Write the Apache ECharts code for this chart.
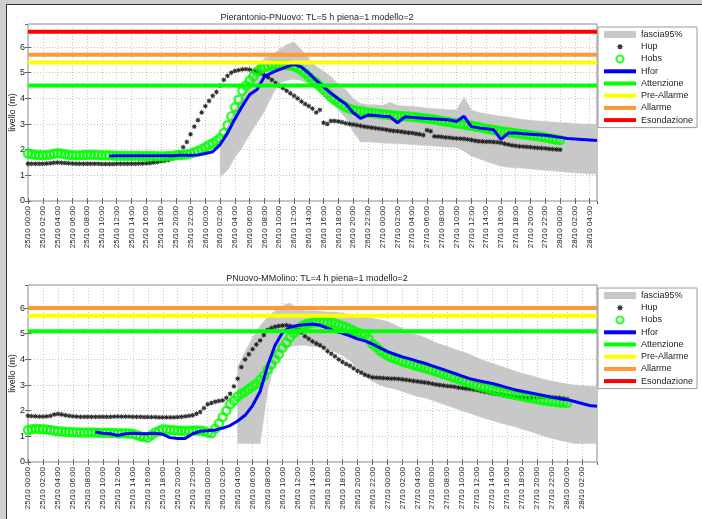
<!DOCTYPE html>
<html><head><meta charset="utf-8">
<script src="https://cdn.jsdelivr.net/npm/echarts@6/dist/echarts.min.js"></script>
<style>
html,body{margin:0;padding:0;background:#cfcfcf;}
#frame{position:absolute;left:6px;top:4px;width:700px;height:520px;background:#fff;border-left:1.5px solid #333;border-top:1.5px solid #333;}
#c{position:absolute;left:0;top:0;width:702px;height:519px;}
</style>
</head><body><div id="frame"></div><div id="c"></div>
<script>
// ---------- DATA (hours from 25/10 00:00) ----------
const startDay = 25;
const titles = ['Pierantonio-PNuovo: TL=5 h piena=1 modello=2', 'PNuovo-MMolino: TL=4 h piena=1 modello=2'];
const xMax = [77, 76];
const yMax = [6.9, 6.9];
const thresholdNames = ['Attenzione', 'Pre-Allarme', 'Allarme', 'Esondazione'];
const thresholdsTop = [4.5, 5.4, 5.7, 6.6];
const thresholdsBot = [5.1, 5.7, 6.0, 7.5];
const obsStep = 0.5;   // observed series: every 30 minutes from 25/10 00:00

// ---- top panel ----
const topHup = [
  1.45,1.45,1.45,1.45,1.45,1.46,1.47,1.49,1.5,1.49,1.48,1.47,1.46,1.45,1.45,1.45,1.45,1.45,1.45,1.45,
  1.44,1.44,1.44,1.44,1.45,1.45,1.45,1.45,1.45,1.45,1.46,1.46,1.47,1.48,1.5,1.52,1.55,1.57,1.6,1.65,
  1.75,1.88,2.1,2.3,2.6,2.9,3.15,3.45,3.7,3.9,4.1,4.25,4.5,4.72,4.88,5.0,5.07,5.1,5.13,5.14,
  5.12,5.08,5.05,4.98,4.9,4.82,4.72,4.6,4.5,4.4,4.3,4.2,4.1,4.0,3.88,3.78,3.7,3.6,3.45,3.55,
  3.05,3.0,3.12,3.12,3.1,3.07,3.03,3.0,2.98,2.96,2.93,2.9,2.88,2.86,2.84,2.82,2.8,2.78,2.75,2.73,
  2.72,2.7,2.68,2.66,2.65,2.62,2.6,2.57,2.76,2.72,2.52,2.51,2.5,2.48,2.47,2.45,2.44,2.43,2.42,2.4,
  2.38,2.35,2.33,2.32,2.31,2.31,2.3,2.29,2.27,2.23,2.2,2.17,2.15,2.13,2.12,2.11,2.1,2.08,2.07,2.06,
  2.05,2.03,2.02,2.01,2.0];
const topHobs = [
  1.85,1.82,1.8,1.79,1.78,1.79,1.8,1.84,1.86,1.85,1.82,1.8,1.78,1.78,1.78,1.79,1.8,1.8,1.8,1.79,
  1.78,1.78,1.78,1.77,1.76,1.76,1.76,1.76,1.76,1.76,1.76,1.75,1.75,1.75,1.75,1.74,1.74,1.74,1.75,1.76,
  1.78,1.79,1.8,1.82,1.85,1.9,1.95,2.02,2.1,2.18,2.25,2.35,2.45,2.65,2.95,3.3,3.65,3.95,4.3,4.5,
  4.7,4.85,5.05,5.15,5.22,5.25,5.28,5.3,5.3,5.3,5.3,5.28,5.25,5.18,5.1,4.98,4.85,4.72,4.62,4.48,
  4.35,4.2,4.05,3.95,3.85,3.75,3.65,3.6,3.55,3.52,3.5,3.48,3.45,3.44,3.42,3.4,3.38,3.37,3.35,3.33,
  3.32,3.31,3.3,3.29,3.28,3.26,3.25,3.23,3.22,3.2,3.18,3.15,3.12,3.1,3.08,3.05,3.03,3.0,2.98,2.95,
  2.93,2.9,2.88,2.85,2.82,2.8,2.77,2.75,2.72,2.7,2.68,2.66,2.64,2.62,2.6,2.58,2.56,2.54,2.52,2.5,
  2.48,2.45,2.43,2.4,2.38];
const topHforStart = 11;   // hourly
const topHfor = [1.75,1.76,1.76,1.76,1.76,1.76,1.76,1.76,1.76,1.77,1.78,1.78,1.79,1.85,1.92,2.2,2.65,3.2,3.7,4.15,
  4.35,4.85,5.0,5.12,5.23,5.33,5.22,4.98,4.7,4.45,4.2,3.98,3.78,3.45,3.22,3.35,3.33,3.3,3.28,3.05,
  3.28,3.26,3.24,3.22,3.2,3.18,3.16,3.1,3.3,2.9,2.85,2.82,2.78,2.4,2.65,2.65,2.62,2.6,2.58,2.56,
  2.52,2.48,2.44,2.42,2.4,2.38,2.36];
const topBandStart = 26;   // hourly
const topBandLow = [0.95,1.2,1.7,2.1,2.6,3.05,3.5,4.1,4.6,4.7,4.75,4.7,4.55,4.35,4.1,3.85,3.55,3.25,2.7,2.3,
  2.3,2.28,2.26,2.25,2.24,2.22,2.2,2.18,2.16,2.14,2.12,2.1,2.1,1.95,1.75,1.65,1.55,1.45,1.35,1.32,
  1.3,1.28,1.25,1.22,1.2,1.18,1.15,1.12,1.1,1.08,1.06,1.05];
const topBandHigh = [2.3,2.9,3.6,4.1,4.7,5.3,5.55,5.7,5.9,6.1,6.2,5.9,5.55,5.25,5.05,4.85,4.55,4.35,4.0,3.8,
  3.75,3.75,3.72,3.85,3.72,3.7,3.68,3.66,3.62,3.6,3.58,3.56,3.55,4.05,3.55,3.45,3.4,3.35,3.3,3.27,
  3.22,3.18,3.15,3.12,3.1,3.08,3.06,3.04,3.02,3.0,3.0,2.98];

// ---- bottom panel ----
const botHup = [
  1.8,1.79,1.78,1.77,1.77,1.78,1.8,1.85,1.87,1.85,1.82,1.8,1.78,1.77,1.76,1.76,1.76,1.76,1.76,1.76,
  1.76,1.76,1.76,1.77,1.77,1.77,1.77,1.77,1.76,1.76,1.76,1.75,1.75,1.75,1.75,1.74,1.74,1.74,1.74,1.74,
  1.75,1.76,1.78,1.8,1.82,1.88,1.95,2.1,2.25,2.3,2.35,2.38,2.4,2.5,2.66,2.95,3.25,3.7,4.0,4.2,
  4.4,4.58,4.74,4.95,5.15,5.22,5.27,5.3,5.32,5.33,5.3,5.25,5.2,5.05,4.9,4.8,4.7,4.62,4.55,4.45,
  4.32,4.22,4.12,4.0,3.9,3.82,3.75,3.65,3.55,3.48,3.4,3.35,3.3,3.29,3.28,3.27,3.26,3.25,3.25,3.24,
  3.22,3.2,3.18,3.16,3.14,3.12,3.1,3.08,3.05,3.02,3.0,2.98,2.96,2.95,2.93,2.9,2.88,2.86,2.85,2.82,
  2.8,2.77,2.74,2.71,2.68,2.66,2.64,2.61,2.58,2.56,2.54,2.52,2.5,2.5,2.5,2.51,2.52,2.53,2.53,2.53,
  2.52,2.51,2.5,2.48,2.45];
const botHobs = [
  1.25,1.28,1.3,1.29,1.28,1.27,1.25,1.22,1.2,1.19,1.18,1.17,1.16,1.15,1.15,1.15,1.15,1.15,1.15,1.14,
  1.14,1.14,1.14,1.13,1.12,1.12,1.12,1.11,1.1,1.05,1.0,0.97,0.95,1.05,1.15,1.22,1.28,1.27,1.25,1.24,
  1.23,1.22,1.22,1.22,1.23,1.23,1.23,1.2,1.15,1.12,1.3,1.5,1.75,2.0,2.25,2.4,2.55,2.66,2.75,2.85,
  2.95,3.05,3.2,3.35,3.6,3.8,4.0,4.2,4.45,4.65,4.87,5.02,5.15,5.28,5.35,5.4,5.43,5.45,5.45,5.45,
  5.43,5.42,5.4,5.35,5.3,5.25,5.18,5.12,5.05,5.0,4.95,4.8,4.6,4.48,4.35,4.25,4.15,4.08,4.02,3.97,
  3.92,3.87,3.83,3.78,3.74,3.7,3.66,3.62,3.58,3.53,3.48,3.43,3.38,3.33,3.28,3.23,3.18,3.13,3.08,3.03,
  2.98,2.94,2.9,2.86,2.82,2.78,2.75,2.72,2.68,2.65,2.62,2.59,2.56,2.53,2.5,2.48,2.45,2.42,2.4,2.38,
  2.36,2.34,2.32,2.31,2.3];
const botHforStart = 9;   // hourly
const botHfor = [1.17,1.12,1.1,1.03,1.1,1.12,1.1,1.1,1.12,1.08,0.95,0.92,0.92,1.1,1.2,1.22,1.25,1.32,1.42,1.6,
  1.82,2.2,2.75,3.75,4.55,5.05,5.25,5.32,5.35,5.38,5.33,5.22,5.1,5.02,4.92,4.8,4.72,4.6,4.45,4.3,
  4.2,4.1,4.02,3.93,3.85,3.75,3.65,3.55,3.45,3.35,3.25,3.18,3.12,3.06,2.98,2.9,2.82,2.76,2.7,2.64,
  2.58,2.52,2.47,2.43,2.36,2.28,2.2,2.17];
const botBandStart = 28;   // hourly
const botBandLow = [0.72,0.72,0.72,0.72,2.8,3.85,4.3,4.5,4.55,4.55,4.5,4.48,4.4,4.3,4.15,3.95,3.65,3.35,3.15,3.0,
  2.9,2.85,2.75,2.65,2.55,2.5,2.4,2.3,2.2,2.1,2.0,1.9,1.8,1.7,1.62,1.52,1.45,1.38,1.28,1.2,
  1.1,1.0,0.92,0.85,0.78,0.72,0.72,0.72,0.72];
const botBandHigh = [3.7,4.3,4.85,5.3,5.65,5.9,6.1,6.2,5.95,5.9,5.9,5.88,5.85,5.85,5.8,5.75,5.7,5.65,5.6,5.55,
  5.48,5.35,5.2,5.05,4.95,4.85,4.72,4.6,4.5,4.4,4.3,4.2,4.05,3.95,3.85,3.75,3.65,3.55,3.45,3.38,
  3.3,3.22,3.15,3.1,3.05,3.0,2.97,2.95,2.93];

// ---------- CHART ----------
const FONT = 'Liberation Sans, Arial, sans-serif';
const TXT = '#222';
const thresholdColors = ['#00ff00', '#ffff00', '#ff9933', '#ff0000'];
const starPath = 'path://M10,5L7.4,6L8.54,8.54L6,7.4L5,10L4,7.4L1.46,8.54L2.6,6L0,5L2.6,4L1.46,1.46L4,2.6L5,0L6,2.6L8.54,1.46L7.4,4Z';
const linePath = 'path://M0,0h32v4h-32z';

function pairs(start, step, arr) { return arr.map((v, i) => [start + i * step, v]); }
function fmt(h) {
  const d = startDay + Math.floor(h / 24);
  const hh = h % 24;
  return d + '/10 ' + (hh < 10 ? '0' : '') + hh + ':00';
}

const panels = [
  {hup: pairs(0, obsStep, topHup), hobs: pairs(0, obsStep, topHobs), hfor: pairs(topHforStart, 1, topHfor),
   band: topBandLow.map((v, i) => [topBandStart + i, v, topBandHigh[i]]), th: thresholdsTop},
  {hup: pairs(0, obsStep, botHup), hobs: pairs(0, obsStep, botHobs), hfor: pairs(botHforStart, 1, botHfor),
   band: botBandLow.map((v, i) => [botBandStart + i, v, botBandHigh[i]]), th: thresholdsBot}
];
const gridTops = [24, 285];

const xAxis = [], yAxis = [], series = [], grid = [], title = [], legend = [];
panels.forEach((P, p) => {
  grid.push({left: 28, top: gridTops[p], width: 569, height: 177, show: true,
    backgroundColor: '#fff', borderColor: '#8a8a8a', borderWidth: 1, outerBoundsMode: 'none', containLabel: false});
  xAxis.push({type: 'value', gridIndex: p, min: 0, max: xMax[p], interval: 2, position: 'bottom',
    axisLine: {show: false}, axisTick: {inside: true, length: 3, lineStyle: {color: '#666'}},
    axisLabel: {rotate: 90, fontSize: 8, color: TXT, fontFamily: FONT, margin: 5, formatter: fmt,
      showMaxLabel: false, hideOverlap: false},
    splitLine: {show: true, lineStyle: {color: '#c4c4c4', type: [1, 2], width: 1}}});
  xAxis.push({type: 'value', gridIndex: p, min: 0, max: xMax[p], interval: 2, position: 'top',
    axisLine: {show: false}, axisTick: {inside: true, length: 3, lineStyle: {color: '#666'}},
    axisLabel: {show: false}, splitLine: {show: false}});
  yAxis.push({type: 'value', gridIndex: p, min: 0, max: yMax[p], interval: 1, position: 'left',
    name: 'livello (m)', nameLocation: 'middle', nameGap: 11, nameRotate: 90, nameMoveOverlap: false,
    nameTextStyle: {fontSize: 9, color: TXT, fontFamily: FONT},
    axisLine: {show: false}, axisTick: {inside: true, length: 3, lineStyle: {color: '#666'}},
    axisLabel: {fontSize: 9, color: TXT, fontFamily: FONT, margin: 3, showMaxLabel: false},
    splitLine: {show: true, lineStyle: {color: '#c4c4c4', type: [1, 2], width: 1}}});
  yAxis.push({type: 'value', gridIndex: p, min: 0, max: yMax[p], interval: 1, position: 'right',
    axisLine: {show: false}, axisTick: {inside: true, length: 3, lineStyle: {color: '#666'}},
    axisLabel: {show: false}, splitLine: {show: false}});
  const xi = p * 2, yi = p * 2;
  series.push({type: 'custom', name: 'fascia95%', xAxisIndex: xi, yAxisIndex: yi, data: P.band,
    encode: {x: 0, y: [1, 2]}, itemStyle: {color: '#c8c8c8'}, silent: true, z: 1,
    renderItem: function (params, api) {
      if (params.dataIndex !== 0) return null;
      const pts = [];
      for (let i = 0; i < P.band.length; i++) pts.push(api.coord([P.band[i][0], P.band[i][2]]));
      for (let i = P.band.length - 1; i >= 0; i--) pts.push(api.coord([P.band[i][0], P.band[i][1]]));
      return {type: 'polygon', shape: {points: pts}, style: {fill: '#c8c8c8', stroke: '#c8c8c8', lineWidth: 0.5}};
    }});
  series.push({type: 'scatter', name: 'Hup', xAxisIndex: xi, yAxisIndex: yi, data: P.hup,
    symbol: starPath, symbolSize: 6, itemStyle: {color: '#000'}, silent: true, z: 2});
  series.push({type: 'scatter', name: 'Hobs', xAxisIndex: xi, yAxisIndex: yi, data: P.hobs,
    symbol: 'circle', symbolSize: 8,
    itemStyle: {color: 'rgba(255,255,255,0)', borderColor: '#00ff00', borderWidth: 2.5}, silent: true, z: 3});
  series.push({type: 'line', name: 'Hfor', xAxisIndex: xi, yAxisIndex: yi, data: P.hfor,
    symbol: 'none', color: '#0000ff', lineStyle: {width: 3, color: '#0000ff'}, silent: true, z: 4});
  P.th.forEach((v, k) => {
    series.push({type: 'line', name: thresholdNames[k], xAxisIndex: xi, yAxisIndex: yi,
      data: [[0, v], [xMax[p], v]], symbol: 'none', color: thresholdColors[k],
      lineStyle: {width: 4, color: thresholdColors[k]}, silent: true, z: 5});
  });
  title.push({text: titles[p], left: 312, top: gridTops[p] - 16, textAlign: 'center',
    textStyle: {fontSize: 9, fontWeight: 'normal', color: TXT, fontFamily: FONT}});
  legend.push({orient: 'vertical', left: 598, top: gridTops[p] + 3, itemWidth: 32, itemHeight: 7,
    itemGap: 3.2, padding: [3, 4, 3, 6], borderColor: '#9a9a9a', borderWidth: 1, backgroundColor: '#fff',
    symbolKeepAspect: true, selectedMode: false,
    textStyle: {fontSize: 9, color: TXT, fontFamily: FONT},
    data: [
      {name: 'fascia95%', icon: 'rect', itemStyle: {color: '#c8c8c8', borderWidth: 0}},
      {name: 'Hup', icon: starPath, itemStyle: {color: '#000', borderWidth: 0}},
      {name: 'Hobs', icon: 'circle', itemStyle: {color: '#fff', borderColor: '#00ff00', borderWidth: 2.2}},
      {name: 'Hfor', icon: linePath, itemStyle: {color: '#0000ff', borderWidth: 0}},
      {name: 'Attenzione', icon: linePath, itemStyle: {color: thresholdColors[0], borderWidth: 0}},
      {name: 'Pre-Allarme', icon: linePath, itemStyle: {color: thresholdColors[1], borderWidth: 0}},
      {name: 'Allarme', icon: linePath, itemStyle: {color: thresholdColors[2], borderWidth: 0}},
      {name: 'Esondazione', icon: linePath, itemStyle: {color: thresholdColors[3], borderWidth: 0}}
    ]});
});

const chart = echarts.init(document.getElementById('c'), null, {renderer: 'canvas'});
chart.setOption({
  backgroundColor: 'transparent',
  animation: false,
  textStyle: {fontFamily: FONT},
  title, legend, grid, xAxis, yAxis, series
});
</script>
</body></html>
